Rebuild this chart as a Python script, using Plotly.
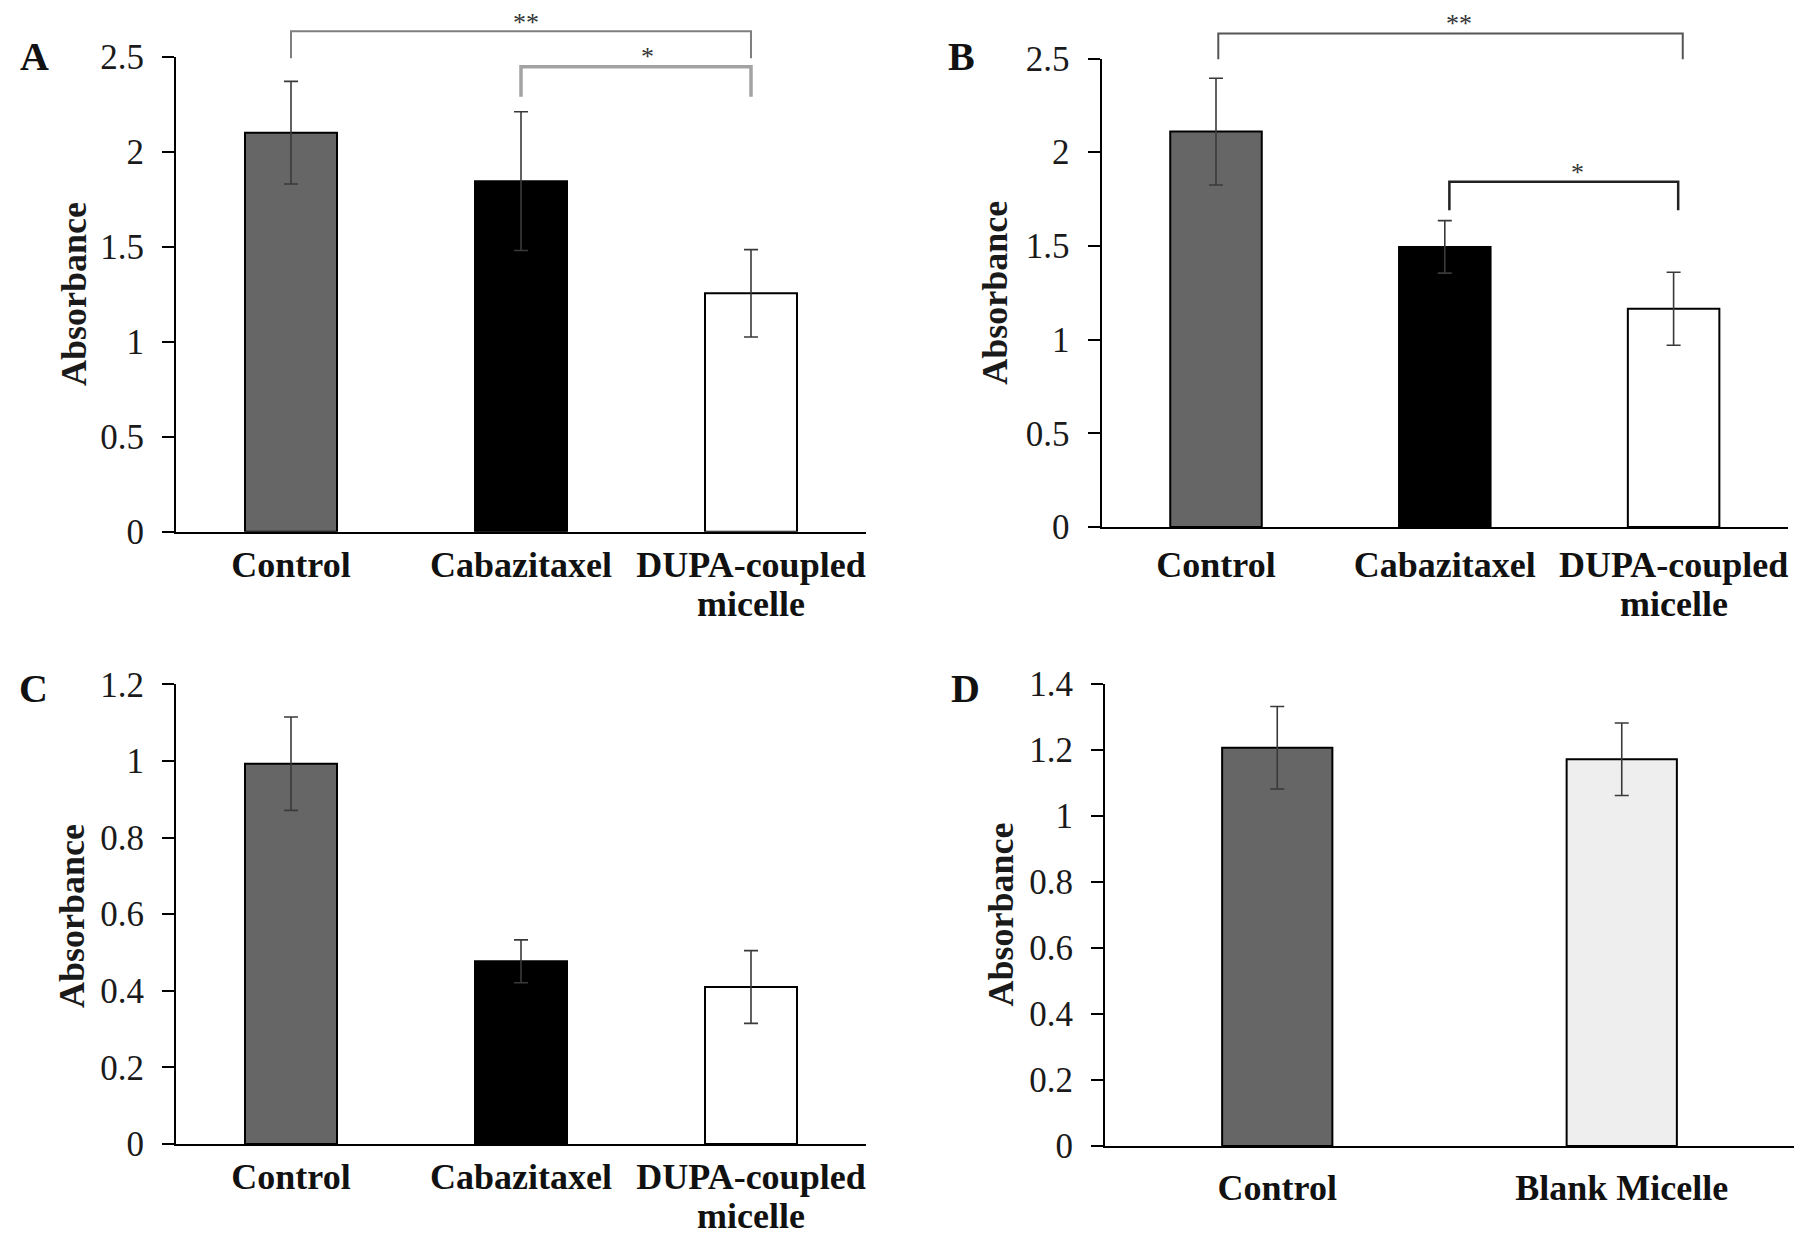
import plotly.graph_objects as go

# ---------------- data ----------------
categories_abc = ["Control", "Cabazitaxel", "DUPA-coupled micelle"]
label_line1_abc = ["Control", "Cabazitaxel", "DUPA-coupled"]
label_line2_abc = ["", "", "micelle"]
categories_d = ["Control", "Blank Micelle"]
label_line1_d = ["Control", "Blank Micelle"]
label_line2_d = ["", ""]

a_values = [2.10, 1.845, 1.255]
a_errors = [0.27, 0.365, 0.23]
b_values = [2.11, 1.495, 1.165]
b_errors = [0.285, 0.14, 0.195]
c_values = [0.993, 0.477, 0.41]
c_errors = [0.122, 0.056, 0.095]
d_values = [1.207, 1.172]
d_errors = [0.125, 0.11]

colors_abc = ["#666666", "#000000", "#ffffff"]
colors_d = ["#666666", "#eeeeee"]

# significance brackets: (panel, x_start_cat, x_end_cat, y_top, y_left_bottom, y_right_bottom, label, label_x_cat, label_y)
brackets = [
    ("A", 0.0, 2.0, 2.634, 2.492, 2.492, "**", 1.02, 2.681),
    ("A", 1.0, 2.0, 2.447, 2.289, 2.289, "*", 1.55, 2.500),
    ("B", 0.01, 2.04, 2.633, 2.496, 2.496, "**", 1.06, 2.687),
    ("B", 1.02, 2.02, 1.843, 1.690, 1.690, "*", 1.58, 1.890),
]
bracket_styles = [("#7f7f7f", 2), ("#a3a3a3", 3.5), ("#555555", 2), ("#222222", 2.5)]

FONT = "Liberation Serif"
WIN_W, WIN_H = 1812, 1239
OFF = 8  # default page body margin
W, H = WIN_W - OFF, WIN_H - OFF


def px(x):
    return (x - OFF) / W


def py(y):
    return 1 - (y - OFF) / H


panels = {
    "A": dict(cats=categories_abc, l1=label_line1_abc, l2=label_line2_abc, vals=a_values, errs=a_errors,
              cols=colors_abc, ymax=2.5, dtick=0.5, xd=[176, 866], yd=[531.8, 56.7], bw=0.40, standoff=0,
              line2_y=604, letter=(34.7, 56), title=(74, 294)),
    "B": dict(cats=categories_abc, l1=label_line1_abc, l2=label_line2_abc, vals=b_values, errs=b_errors,
              cols=colors_abc, ymax=2.5, dtick=0.5, xd=[1101.6, 1788], yd=[527.1, 58.5], bw=0.40, standoff=5,
              line2_y=604, letter=(961, 56), title=(994.7, 293)),
    "C": dict(cats=categories_abc, l1=label_line1_abc, l2=label_line2_abc, vals=c_values, errs=c_errors,
              cols=colors_abc, ymax=1.2, dtick=0.2, xd=[176, 866], yd=[1144, 684.4], bw=0.40, standoff=0,
              line2_y=1216, letter=(33, 688), title=(72, 916)),
    "D": dict(cats=categories_d, l1=label_line1_d, l2=label_line2_d, vals=d_values, errs=d_errors,
              cols=colors_d, ymax=1.4, dtick=0.2, xd=[1105, 1794], yd=[1146, 684], bw=0.32, standoff=9,
              line2_y=None, letter=(965, 688), title=(1000.5, 915)),
}

fig = go.Figure()
layout = dict(
    width=W, height=H, margin=dict(l=0, r=0, t=0, b=0, pad=0, autoexpand=False),
    paper_bgcolor="white", plot_bgcolor="white", showlegend=False,
    font=dict(family=FONT, color="#1a1a1a"),
)
annotations = []
shapes = []
cat_font = dict(family=FONT, size=36, color="#111111", weight="bold")

for i, (name, p) in enumerate(panels.items()):
    sfx = "" if i == 0 else str(i + 1)
    xa, ya = "x" + sfx, "y" + sfx
    fig.add_trace(go.Bar(
        x=p["cats"], y=p["vals"], xaxis=xa, yaxis=ya, width=p["bw"],
        marker=dict(color=p["cols"], line=dict(color="#000000", width=2)),
        error_y=dict(type="data", array=p["errs"], color="#3a3a3a", thickness=1.6, width=7),
        hoverinfo="skip",
    ))
    layout["xaxis" + sfx] = dict(
        domain=[px(p["xd"][0]), px(p["xd"][1])], anchor=ya, type="category", showline=True,
        linecolor="#000000", linewidth=2, ticks="", showgrid=False, zeroline=False,
        range=[-0.5, len(p["cats"]) - 0.5], automargin=False,
        tickmode="array", tickvals=p["cats"], ticktext=p["l1"],
        tickfont=cat_font, ticklabelstandoff=p["standoff"],
    )
    layout["yaxis" + sfx] = dict(
        domain=[py(p["yd"][0]), py(p["yd"][1])], anchor=xa, range=[0, p["ymax"]], dtick=p["dtick"],
        tick0=0, automargin=False, showline=True, linecolor="#000000", linewidth=2, ticks="outside",
        ticklen=12, tickwidth=2, tickcolor="#000000", showgrid=False, zeroline=False,
        tickfont=dict(family=FONT, size=35, color="#1a1a1a"), ticklabelstandoff=11,
    )
    # second line of two-line category labels
    for cat, txt in zip(p["cats"], p["l2"]):
        if txt:
            annotations.append(dict(text=txt, x=cat, y=py(p["line2_y"]), xref=xa, yref="paper",
                                    showarrow=False, xanchor="center", yanchor="middle", font=cat_font,
                                    borderpad=0))
    lx, ly = p["letter"]
    annotations.append(dict(text="<b>%s</b>" % name, x=px(lx), y=py(ly), xref="paper", yref="paper",
                            showarrow=False, xanchor="center", yanchor="middle",
                            font=dict(family=FONT, size=40, color="#111111")))
    tx, ty = p["title"]
    annotations.append(dict(text="<b>Absorbance</b>", x=px(tx), y=py(ty), xref="paper", yref="paper",
                            showarrow=False, xanchor="center", yanchor="middle", textangle=-90,
                            font=dict(family=FONT, size=36, color="#1a1a1a")))

panel_index = {k: i for i, k in enumerate(panels)}
for (pname, x0, x1, ytop, yl, yr, label, lxc, lyv), (col, lw) in zip(brackets, bracket_styles):
    i = panel_index[pname]
    sfx = "" if i == 0 else str(i + 1)
    p = panels[pname]
    n = len(p["cats"])
    fx = lambda c: (c + 0.5) / n
    fy = lambda v: v / p["ymax"]
    path = "M %.5f,%.5f L %.5f,%.5f L %.5f,%.5f L %.5f,%.5f" % (
        fx(x0), fy(yl), fx(x0), fy(ytop), fx(x1), fy(ytop), fx(x1), fy(yr))
    shapes.append(dict(type="path", path=path, xref="x%s domain" % sfx, yref="y%s domain" % sfx,
                       line=dict(color=col, width=lw)))
    annotations.append(dict(text=label, x=fx(lxc), y=fy(lyv), xref="x%s domain" % sfx,
                            yref="y%s domain" % sfx, showarrow=False, xanchor="center", yanchor="middle",
                            borderpad=0, font=dict(family=FONT, size=26, color="#333333")))

layout["annotations"] = annotations
layout["shapes"] = shapes
fig.update_layout(**layout)
fig.write_html("out.html")
